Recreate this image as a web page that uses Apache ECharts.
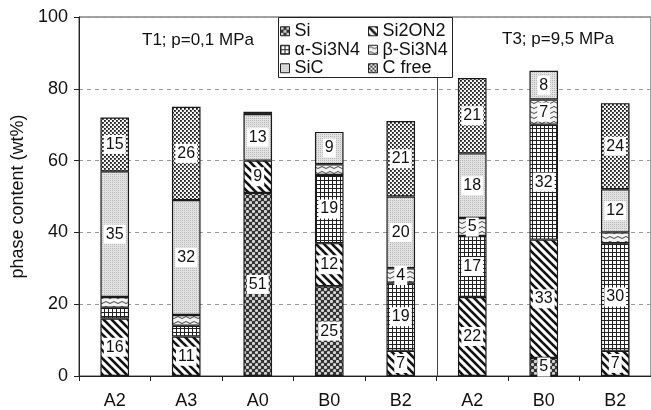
<!DOCTYPE html>
<html><head><meta charset="utf-8">
<script src="https://cdn.jsdelivr.net/npm/echarts@6/dist/echarts.min.js"></script>
<style>html,body{margin:0;padding:0;background:#fff}#c{width:651px;height:410px}</style>
</head><body><div id="c"></div><script>
const categories = ['A2', 'A3', 'A0', 'B0', 'B2', 'A2', 'B0', 'B2'];
const seriesNames = ['Si', 'Si2ON2', 'α-Si3N4', 'β-Si3N4', 'SiC', 'C free'];
const si     = [0, 0, 51, 25, 0, 0, 5, 0];
const si2on2 = [16, 11, 9, 12, 7, 22, 33, 7];
const alpha  = [3, 3, 0, 19, 19, 17, 32, 30];
const beta   = [3, 3, 0, 3, 4, 5, 7, 3];
const sic    = [35, 32, 13, 9, 20, 18, 8, 12];
const cfree  = [15, 26, 0.6, 0, 21, 21, 0, 24];
const yTicks = [0, 20, 40, 60, 80, 100];
const groupTitles = ['T1; p=0,1 MPa', 'T3; p=9,5 MPa'];

const FONT = 'Liberation Sans, Arial, sans-serif';

function pat(kind) {
  const c = document.createElement('canvas');
  let g;
  if (kind === 'si') {
    c.width = 6; c.height = 6; g = c.getContext('2d');
    g.fillStyle = '#333'; g.fillRect(0, 0, 6, 6);
    g.fillStyle = '#d6d6d6';
    [[1.5,1.5],[4.5,4.5]].forEach(p => { g.beginPath(); g.arc(p[0], p[1], 1.6, 0, Math.PI*2); g.fill(); });
  } else if (kind === 'si2on2') {
    c.width = 8; c.height = 8; g = c.getContext('2d');
    g.fillStyle = '#fff'; g.fillRect(0, 0, 8, 8);
    g.strokeStyle = '#111'; g.lineWidth = 2.6;
    [-8, 0, 8].forEach(k => { g.beginPath(); g.moveTo(k - 1, -1); g.lineTo(k + 9, 9); g.stroke(); });
  } else if (kind === 'alpha') {
    c.width = 4; c.height = 4; g = c.getContext('2d');
    g.fillStyle = '#fff'; g.fillRect(0, 0, 4, 4);
    g.fillStyle = '#222'; g.fillRect(0, 0, 4, 1); g.fillRect(0, 0, 1, 4);
  } else if (kind === 'beta') {
    c.width = 8; c.height = 5; g = c.getContext('2d');
    g.fillStyle = '#f2f2f2'; g.fillRect(0, 0, 8, 5);
    g.strokeStyle = '#444'; g.lineWidth = 1;
    g.beginPath(); g.moveTo(0, 2.5); g.quadraticCurveTo(2, 0.5, 4, 2.5); g.quadraticCurveTo(6, 4.5, 8, 2.5); g.stroke();
  } else if (kind === 'sic') {
    c.width = 2; c.height = 2; g = c.getContext('2d');
    g.fillStyle = '#e2e2e2'; g.fillRect(0, 0, 2, 2);
    g.fillStyle = '#b8b8b8'; g.fillRect(0, 0, 1, 1);
  } else if (kind === 'cfree') {
    c.width = 4; c.height = 4; g = c.getContext('2d');
    g.fillStyle = '#f4f4f4'; g.fillRect(0, 0, 4, 4);
    g.fillStyle = '#1a1a1a'; g.fillRect(0, 0, 1.8, 1.8); g.fillRect(2, 2, 1.8, 1.8);
  }
  return { image: c, repeat: 'repeat' };
}

const patterns = [pat('si'), pat('si2on2'), pat('alpha'), pat('beta'), pat('sic'), pat('cfree')];
const values = [si, si2on2, alpha, beta, sic, cfree];

const series = values.map((arr, i) => ({
  name: seriesNames[i],
  type: 'bar',
  stack: 'total',
  barWidth: '40%',
  itemStyle: { color: patterns[i], borderColor: '#1a1a1a', borderWidth: 1.2 },
  label: {
    show: true, position: 'inside', color: '#111', fontSize: 16, fontFamily: FONT,
    backgroundColor: '#fff', padding: [2, 2, 1, 2],
    formatter: p => String(Math.round(p.value))
  },
  emphasis: { disabled: true },
  data: arr.map(v => v === 0 ? '-' : (v >= 4 ? v : { value: v, label: { show: false } }))
}));

const chart = echarts.init(document.getElementById('c'), null, { renderer: 'canvas' });
const legendCommon = {
  orient: 'vertical', top: 22, padding: 0, itemWidth: 9, itemHeight: 9, itemGap: 0, icon: 'rect',
  itemStyle: { borderColor: '#222', borderWidth: 1 },
  textStyle: { fontSize: 18, fontFamily: FONT, color: '#111', lineHeight: 18.5 },
  z: 50, selectedMode: false
};
chart.setOption({
  animation: false,
  backgroundColor: '#fff',
  grid: { left: 79, top: 17, width: 576, height: 361, show: true, borderColor: '#444', borderWidth: 1, backgroundColor: 'transparent' },
  legend: [
    Object.assign({}, legendCommon, { left: 280, data: [seriesNames[0], seriesNames[2], seriesNames[4]] }),
    Object.assign({}, legendCommon, { left: 368, data: [seriesNames[1], seriesNames[3], seriesNames[5]] })
  ],
  xAxis: {
    type: 'category', data: categories,
    axisLine: { lineStyle: { color: '#222', width: 1 } },
    axisTick: { show: true, length: 5, lineStyle: { color: '#222' } },
    axisLabel: { fontSize: 18, fontFamily: FONT, color: '#111', margin: 16 },
    splitLine: { show: false }
  },
  yAxis: {
    type: 'value', min: yTicks[0], max: yTicks[yTicks.length - 1], interval: 20,
    name: 'phase content (wt%)', nameLocation: 'middle', nameGap: 50,
    nameTextStyle: { fontSize: 18, fontFamily: FONT, color: '#111' },
    axisLine: { show: true, lineStyle: { color: '#222', width: 1 } },
    axisTick: { show: true, length: 5, lineStyle: { color: '#222' } },
    axisLabel: { fontSize: 18, fontFamily: FONT, color: '#111', margin: 11 },
    splitLine: { show: true, lineStyle: { color: '#999', type: [4, 4], width: 1 } }
  },
  series: series
});

const x4 = chart.convertToPixel({ xAxisIndex: 0 }, 4);
const x5 = chart.convertToPixel({ xAxisIndex: 0 }, 5);
const sepX = Math.round((x4 + x5) / 2) + 0.5;
const yTop = chart.convertToPixel({ yAxisIndex: 0 }, 100);
const yBot = chart.convertToPixel({ yAxisIndex: 0 }, 0);
chart.setOption({
  graphic: [
    { type: 'line', z: 5, shape: { x1: sepX, y1: yTop, x2: sepX, y2: yBot }, style: { stroke: '#444', lineWidth: 1 } },
    { type: 'rect', z: 40, shape: { x: 278.5, y: 17.5, width: 174, height: 60 }, style: { fill: '#fff', stroke: '#222', lineWidth: 1 } },
    { type: 'text', z: 10, left: 142, top: 32, style: { text: groupTitles[0], font: '17px ' + FONT, fill: '#111' } },
    { type: 'text', z: 10, left: 502, top: 31, style: { text: groupTitles[1], font: '17px ' + FONT, fill: '#111' } }
  ]
});
</script></body></html>
